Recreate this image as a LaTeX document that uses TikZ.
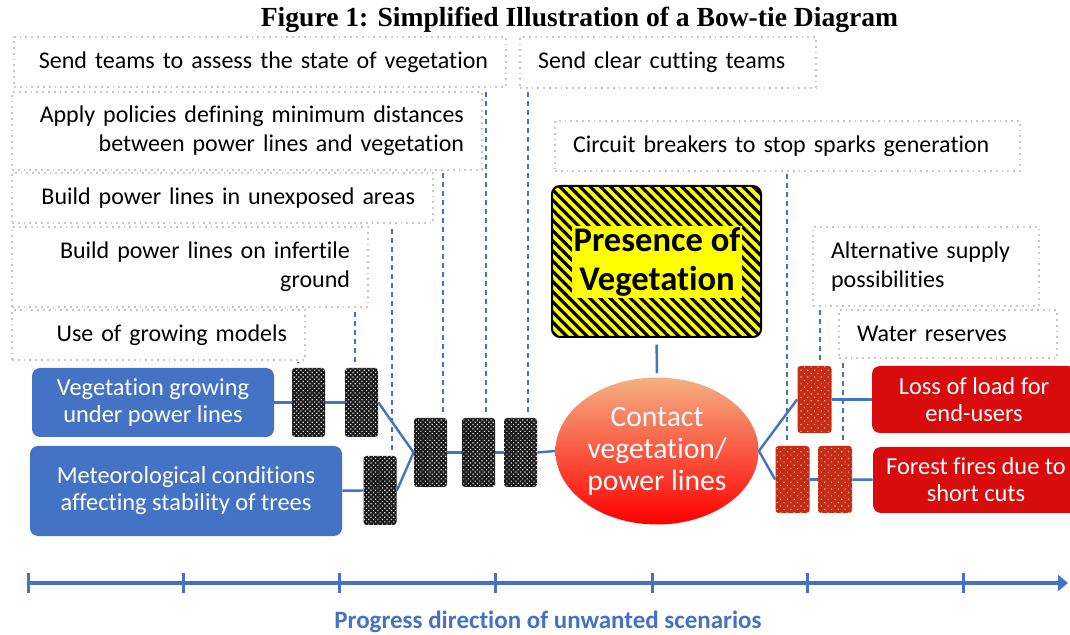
\documentclass[tikz,border=0pt]{standalone}
\usepackage{fontspec}
\setmainfont{Carlito}[Ligatures=NoCommon]
\newfontfamily\titlefont{Liberation Serif}
\usepackage{tikz}
\usetikzlibrary{arrows.meta, positioning, patterns.meta, shapes.geometric}

\definecolor{bowblue}{RGB}{68,114,196}
\definecolor{bowred}{RGB}{216,12,12}
\definecolor{barred}{RGB}{196,44,24}
\definecolor{dotcream}{RGB}{240,190,140}
\definecolor{dotgray}{RGB}{200,200,200}
\definecolor{hazyellow}{RGB}{255,255,0}

\begin{document}
\begin{tikzpicture}[x=0.5pt, y=-0.5pt,
            ctrlbox/.style={draw=dotgray, dotted, line width=0.9pt, fill=white, inner xsep=9pt, inner ysep=0pt, font=\fontsize{12}{14.5}\selectfont},
            ctrlleft/.style={ctrlbox, align=right},
            ctrlright/.style={ctrlbox, align=left},
            cause/.style={fill=bowblue, rounded corners=4pt, text=white, align=center, inner sep=0pt, font=\fontsize{12.2}{13.5}\selectfont},
            effect/.style={fill=bowred, rounded corners=4pt, text=white, align=center, inner sep=0pt, font=\fontsize{12.2}{13.5}\selectfont},
            barrier/.style={rounded corners=1.5pt, inner sep=0pt, minimum width=16.5pt, minimum height=34.5pt, preaction={fill=black!90}, pattern={Dots[distance=1.6pt, radius=0.42pt, angle=45]}, pattern color=white!90!black},
            redbarrier/.style={rounded corners=1.5pt, inner sep=0pt, minimum width=17pt, minimum height=33.5pt, preaction={fill=barred}, pattern={Dots[distance=2.4pt, radius=0.4pt, angle=45]}, pattern color=dotcream},
            link/.style={draw=bowblue, line width=1.2pt},
            ctrl/.style={draw=bowblue, line width=0.7pt, dash pattern=on 2.5pt off 2pt, shorten <=3pt, shorten >=1pt}
        ]
        \clip (0,0) rectangle (1070,635);

        \node[font=\titlefont\bfseries\fontsize{13.8}{16}\selectfont] (title) at (579.5,20) {Figure 1: Simplified Illustration of a Bow-tie Diagram};

        \node[ctrlleft, text width=228pt, minimum height=25pt] (teams) at (260,62) {Send teams to assess the state of vegetation};
        \node[ctrlleft, text width=217pt, minimum height=39pt] (policies) at (247,131) {Apply policies defining minimum distances\\between power lines and vegetation};
        \node[ctrlleft, text width=192.5pt, minimum height=25pt] (unexposed) at (222.5,198) {Build power lines in unexposed areas};
        \node[ctrlleft, text width=160pt, minimum height=40pt] (infertile) at (190,267) {Build power lines on infertile\\ground};
        \node[ctrlleft, text width=128.5pt, minimum height=25pt] (models) at (158.5,335) {Use of growing models};

        \node[ctrlright, text width=130pt, minimum height=25.5pt] (clearcut) at (668,62.5) {Send clear cutting teams};
        \node[ctrlright, text width=214.5pt, minimum height=25pt] (breakers) at (787.5,146) {Circuit breakers to stop sparks generation};
        \node[ctrlright, text width=95pt, minimum height=39.5pt] (altsupply) at (926,266.5) {Alternative supply\\possibilities};
        \node[ctrlright, text width=91pt, minimum height=24pt] (water) at (948,334) {Water reserves};

        \node[draw=black, line width=1pt, rounded corners=4pt, minimum width=104.5pt, minimum height=75.5pt, preaction={fill=hazyellow}, pattern={Lines[angle=-45, distance=3.6pt, line width=1.6pt]}, pattern color=black] (hazard) at (656.5,261.5) {};
        \node[fill=hazyellow, inner sep=1pt, align=center, font=\bfseries\fontsize{17.3}{19.5}\selectfont] (hazardtext) at (657,262) {Presence of\\Vegetation};

        \node[ellipse, minimum width=101.5pt, minimum height=73.5pt, inner sep=0pt, top color={rgb,255:red,244;green,177;blue,131}, middle color={rgb,255:red,237;green,108;blue,45}, bottom color={rgb,255:red,255;green,0;blue,0}, text=white, align=center, font=\fontsize{14.8}{16}\selectfont] (contact) at (657,451) {Contact\\vegetation/\\power lines};

        \node[cause, minimum width=121pt, minimum height=34.5pt] (vegrow) at (153,402.5) {Vegetation growing\\under power lines};
        \node[cause, minimum width=156pt, minimum height=45pt] (meteo) at (186,491) {Meteorological conditions\\affecting stability of trees};

        \node[effect, minimum width=102pt, minimum height=33.5pt] (loadloss) at (974,399.5) {Loss of load for\\end-users};
        \node[effect, minimum width=103pt, minimum height=33pt] (forest) at (976,480) {Forest fires due to\\short cuts};

        \node[barrier] (b1) at (308.5,402.5) {};
        \node[barrier] (b2) at (361.5,402.5) {};
        \node[barrier] (b3) at (380,490.5) {};
        \node[barrier] (b4) at (430.5,452.5) {};
        \node[barrier] (b5) at (478.5,452.5) {};
        \node[barrier] (b6) at (520.5,452.5) {};

        \node[redbarrier] (r1) at (814.5,399.5) {};
        \node[redbarrier] (r2) at (792.5,479.5) {};
        \node[redbarrier] (r3) at (835,479.5) {};

        \draw[link] (vegrow) -- (b1);
        \draw[link] (b1) -- (b2);
        \draw[link] (b2.east) -- (b4.west);
        \draw[link] (meteo) -- (b3);
        \draw[link] (b3.east) -- (b4.west);
        \draw[link] (b4) -- (b5);
        \draw[link] (b5) -- (b6);
        \draw[link] (b6.east) -- (contact.west);
        \draw[link, shorten <=3pt, shorten >=2pt] (hazard.south) -- (contact.north);
        \draw[link] (contact.east) -- (r1.west);
        \draw[link] (contact.east) -- (r2.west);
        \draw[link] (r1) -- (loadloss);
        \draw[link] (r2) -- (r3);
        \draw[link] (r3) -- (forest);

        \draw[ctrl] ([xshift=-5.25pt]b1.north) -- ([xshift=-5.25pt]b1.north |- models.south);
        \draw[ctrl] ([xshift=-3.25pt]b2.north) -- ([xshift=-3.25pt]b2.north |- infertile.south);
        \draw[ctrl] ([xshift=6pt]b3.north) -- ([xshift=6pt]b3.north |- unexposed.south);
        \draw[ctrl] ([xshift=6.25pt]b4.north) -- ([xshift=6.25pt]b4.north |- policies.south);
        \draw[ctrl] ([xshift=3.75pt]b5.north) -- ([xshift=3.75pt]b5.north |- teams.south);
        \draw[ctrl] ([xshift=3.75pt]b6.north) -- ([xshift=3.75pt]b6.north |- clearcut.south);
        \draw[ctrl] ([xshift=2.75pt]r1.north) -- ([xshift=2.75pt]r1.north |- altsupply.south);
        \draw[ctrl] ([xshift=-2.75pt]r2.north) -- ([xshift=-2.75pt]r2.north |- breakers.south);
        \draw[ctrl] ([xshift=4pt]r3.north) -- ([xshift=4pt]r3.north |- water.south);

        \coordinate (axstart) at (28,583);
        \coordinate (axend) at (1068,583);
        \draw[bowblue, line width=2.4pt, -{Triangle[length=5pt, width=8pt]}] (axstart) -- (axend);
        \foreach \tx in {28,183,339,495,652,807,963}
            \draw[bowblue, line width=1.5pt] (\tx,573) -- (\tx,593);
        \node[font=\bfseries\fontsize{12.5}{15}\selectfont, text=bowblue] (axlabel) at (548,622) {Progress direction of unwanted scenarios};

\end{tikzpicture}
\end{document}
